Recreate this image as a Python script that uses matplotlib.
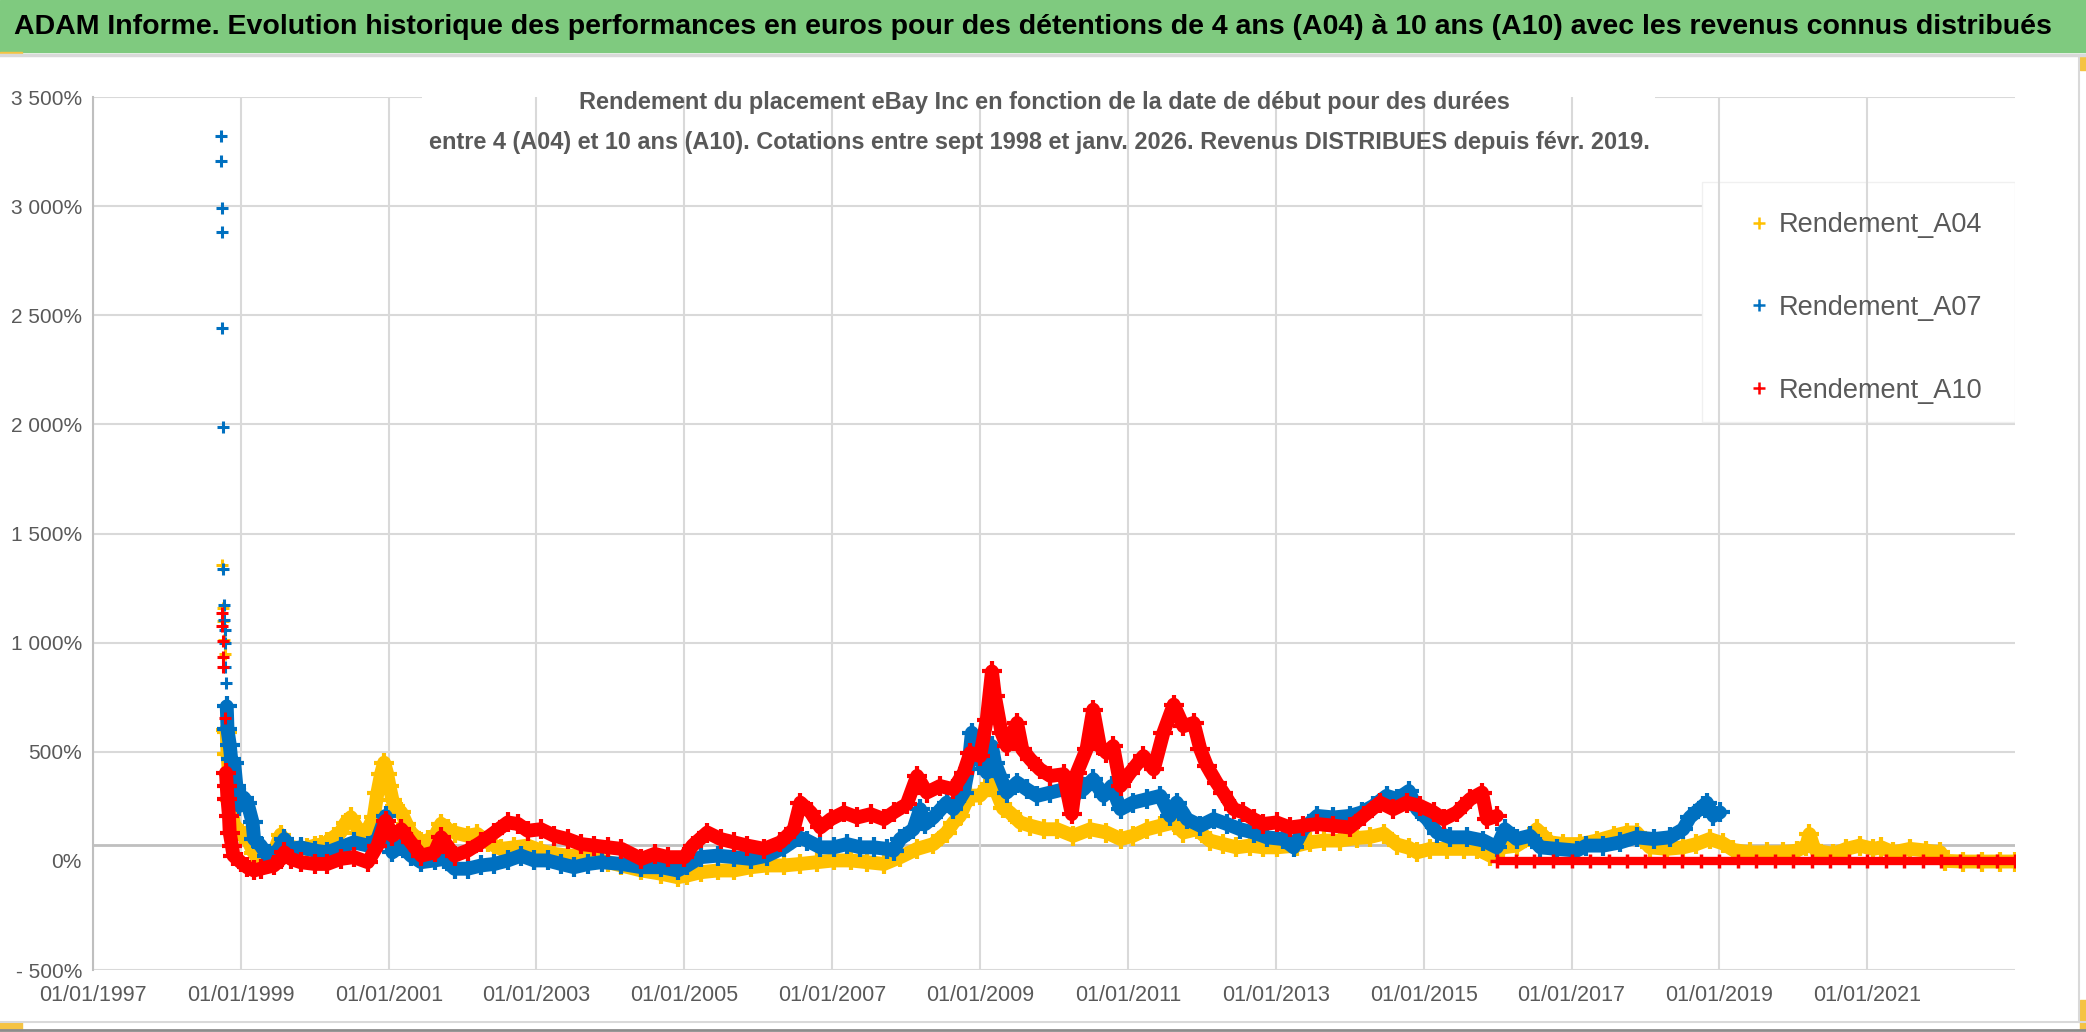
import matplotlib
matplotlib.use('Agg')
import matplotlib.pyplot as plt
from matplotlib.patches import Rectangle
from matplotlib.lines import Line2D
import matplotlib.dates as mdates
from datetime import datetime, timedelta

# dates en annees decimales, valeurs en %
a04_spike_years = [1998.75, 1998.76, 1998.765, 1998.77, 1998.78]
a04_spike_values = [1357, 1160, 1100, 1010, 950]
a04_years = [1998.80, 1998.81, 1998.82, 1998.84, 1998.86, 1998.91, 1998.95, 1999.00, 1999.09, 1999.18,
             1999.27, 1999.36, 1999.45, 1999.54, 1999.59, 1999.68, 1999.81, 1999.90, 2000.00, 2000.09,
             2000.17, 2000.26, 2000.35, 2000.42, 2000.49, 2000.56, 2000.62, 2000.72, 2000.80, 2000.85,
             2000.90, 2000.94, 2000.98, 2001.01, 2001.05, 2001.08, 2001.17, 2001.24, 2001.30, 2001.44,
             2001.53, 2001.62, 2001.71, 2001.80, 2001.89, 2002.07, 2002.20, 2002.34, 2002.43, 2002.52,
             2002.70, 2002.88, 2003.06, 2003.24, 2003.42, 2003.60, 2003.78, 2003.97, 2004.15, 2004.42,
             2004.69, 2004.91, 2005.04, 2005.22, 2005.45, 2005.67, 2005.90, 2006.12, 2006.35, 2006.57,
             2006.80, 2007.02, 2007.25, 2007.47, 2007.70, 2007.92, 2008.15, 2008.37, 2008.55, 2008.64,
             2008.73, 2008.80, 2008.87, 2009.00, 2009.13, 2009.18, 2009.24, 2009.31, 2009.40, 2009.54,
             2009.68, 2009.86, 2010.04, 2010.26, 2010.49, 2010.71, 2010.90, 2011.07, 2011.26, 2011.44,
             2011.62, 2011.75, 2011.93, 2012.11, 2012.29, 2012.47, 2012.65, 2012.83, 2013.01, 2013.28,
             2013.46, 2013.65, 2013.87, 2014.10, 2014.28, 2014.46, 2014.64, 2014.80, 2014.91, 2015.09,
             2015.32, 2015.54, 2015.72, 2015.90, 2016.08, 2016.26, 2016.44, 2016.53, 2016.71, 2016.89,
             2017.12, 2017.34, 2017.57, 2017.75, 2017.88, 2018.06, 2018.29, 2018.51, 2018.69, 2018.87,
             2019.05, 2019.19, 2019.41, 2019.64, 2019.86, 2020.05, 2020.18, 2020.22, 2020.27, 2020.31,
             2020.54, 2020.72, 2020.90, 2021.08, 2021.19, 2021.35, 2021.58, 2021.80, 2021.99, 2022.05,
             2022.30, 2022.55, 2022.80, 2023.00]
a04_values = [600, 590, 490, 400, 280, 160, 150, 125, 100, 35,
              -5, 10, 40, 120, 90, 65, 55, 60, 70, 75,
              85, 110, 130, 175, 200, 160, 130, 145, 200, 313,
              400, 450, 400, 343, 280, 252, 222, 170, 130, 85,
              95, 110, 170, 145, 130, 115, 123, 85, 70, 55,
              62, 70, 47, 32, 24, 24, 9, -6, -21, -44,
              -59, -75, -67, -52, -44, -44, -29, -21, -21, -14,
              -6, 2, 2, -6, -14, 17, 55, 77, 130, 175,
              206, 260, 298, 300, 350, 366, 300, 240, 222, 176,
              161, 145, 145, 115, 145, 130, 100, 115, 145, 161,
              176, 130, 145, 93, 77, 62, 70, 62, 62, 70,
              85, 93, 93, 105, 110, 125, 75, 60, 39, 55,
              55, 55, 55, 24, 62, 70, 108, 145, 85, 77,
              77, 93, 115, 130, 130, 62, 55, 62, 77, 100,
              80, 50, 39, 39, 40, 47, 70, 123, 70, 47,
              32, 55, 70, 55, 62, 39, 55, 47, 39, 0,
              -3, -3, -3, -3]

a07_spike_years = [1998.73, 1998.735, 1998.74, 1998.745, 1998.75, 1998.76, 1998.765, 1998.77, 1998.775,
                   1998.78, 1998.785, 1998.79, 1998.80]
a07_spike_values = [3321, 3206, 2993, 2883, 2441, 1986, 1336, 1172, 1103, 1058, 997, 890, 815]
a07_years = [1998.81, 1998.82, 1998.85, 1998.87, 1998.88, 1998.91, 1998.94, 1998.98, 1999.04, 1999.09,
             1999.16, 1999.18, 1999.27, 1999.36, 1999.50, 1999.59, 1999.68, 1999.81, 2000.00, 2000.17,
             2000.35, 2000.53, 2000.72, 2000.85, 2000.96, 2001.05, 2001.17, 2001.30, 2001.44, 2001.62,
             2001.75, 2001.89, 2002.07, 2002.25, 2002.43, 2002.61, 2002.79, 2002.97, 2003.15, 2003.33,
             2003.51, 2003.70, 2003.88, 2004.15, 2004.42, 2004.69, 2004.91, 2005.04, 2005.22, 2005.45,
             2005.67, 2005.90, 2006.12, 2006.35, 2006.55, 2006.66, 2006.84, 2007.02, 2007.20, 2007.38,
             2007.56, 2007.74, 2007.83, 2007.92, 2008.10, 2008.19, 2008.26, 2008.37, 2008.55, 2008.64,
             2008.78, 2008.84, 2008.89, 2008.93, 2009.00, 2009.09, 2009.16, 2009.20, 2009.27, 2009.36,
             2009.50, 2009.63, 2009.77, 2009.95, 2010.13, 2010.26, 2010.40, 2010.53, 2010.67, 2010.78,
             2010.90, 2011.07, 2011.26, 2011.44, 2011.57, 2011.66, 2011.80, 2011.98, 2012.16, 2012.34,
             2012.52, 2012.70, 2012.88, 2013.10, 2013.24, 2013.37, 2013.56, 2013.78, 2014.00, 2014.16,
             2014.32, 2014.50, 2014.64, 2014.80, 2014.91, 2015.05, 2015.18, 2015.36, 2015.59, 2015.81,
             2015.99, 2016.10, 2016.26, 2016.44, 2016.58, 2016.80, 2017.07, 2017.20, 2017.43, 2017.66,
             2017.88, 2018.11, 2018.33, 2018.51, 2018.60, 2018.78, 2018.83, 2018.92, 2019.01]
a07_values = [708, 602, 533, 465, 389, 450, 343, 252, 290, 267,
              176, 100, 70, 24, 47, 100, 55, 62, 47, 39,
              62, 85, 70, 100, 206, 39, 70, 24, -6, 2,
              9, -36, -36, -21, -14, 2, 24, 2, 2, -14,
              -29, -14, -6, -14, -29, -29, -44, -21, 17, 24,
              17, 9, 24, 62, 108, 93, 62, 62, 77, 62,
              62, 55, 47, 100, 145, 237, 169, 199, 267, 237,
              313, 420, 587, 480, 465, 404, 526, 450, 389, 313,
              359, 328, 298, 313, 328, 298, 328, 374, 298, 343,
              237, 267, 283, 298, 206, 267, 191, 161, 191, 169,
              145, 130, 108, 100, 62, 145, 206, 199, 206, 222,
              252, 298, 283, 320, 237, 191, 130, 108, 108, 93,
              62, 145, 100, 115, 62, 55, 47, 70, 70, 85,
              108, 100, 108, 145, 199, 252, 267, 206, 222]

a10_spike_years = [1998.74, 1998.75, 1998.755, 1998.76, 1998.765, 1998.78]
a10_spike_values = [1136, 1078, 1008, 936, 890, 655]
a10_years = [1998.80, 1998.81, 1998.82, 1998.84, 1998.85, 1998.88, 1998.90, 1999.00, 1999.09, 1999.18,
             1999.27, 1999.45, 1999.55, 1999.59, 1999.68, 1999.81, 2000.00, 2000.17, 2000.35, 2000.53,
             2000.72, 2000.85, 2000.96, 2001.05, 2001.17, 2001.30, 2001.44, 2001.62, 2001.71, 2001.89,
             2002.07, 2002.25, 2002.43, 2002.61, 2002.75, 2002.88, 2003.06, 2003.24, 2003.42, 2003.60,
             2003.78, 2003.97, 2004.15, 2004.42, 2004.60, 2004.78, 2005.00, 2005.11, 2005.31, 2005.49,
             2005.67, 2005.85, 2006.08, 2006.30, 2006.48, 2006.57, 2006.71, 2006.84, 2006.98, 2007.16,
             2007.34, 2007.52, 2007.70, 2007.83, 2008.01, 2008.15, 2008.28, 2008.46, 2008.64, 2008.78,
             2008.87, 2009.00, 2009.09, 2009.16, 2009.20, 2009.29, 2009.36, 2009.50, 2009.57, 2009.68,
             2009.81, 2009.95, 2010.13, 2010.24, 2010.31, 2010.44, 2010.53, 2010.62, 2010.71, 2010.80,
             2010.90, 2011.03, 2011.21, 2011.35, 2011.48, 2011.62, 2011.75, 2011.89, 2011.98, 2012.07,
             2012.20, 2012.29, 2012.43, 2012.56, 2012.70, 2012.83, 2013.01, 2013.19, 2013.37, 2013.56,
             2013.78, 2014.00, 2014.19, 2014.41, 2014.59, 2014.77, 2014.95, 2015.14, 2015.27, 2015.45,
             2015.63, 2015.79, 2015.86, 2015.99]
a10_values = [404, 343, 283, 206, 130, 70, 24, -6, -30, -44,
              -36, -21, 10, 39, 9, -6, -14, -14, 9, 17,
              -6, 70, 184, 115, 145, 85, 24, 39, 108, 24,
              47, 85, 130, 176, 169, 138, 145, 115, 100, 77,
              70, 62, 55, 9, 32, 17, 17, 70, 130, 100,
              85, 70, 55, 85, 145, 267, 222, 153, 191, 222,
              199, 214, 191, 222, 260, 389, 313, 343, 328, 404,
              495, 480, 647, 868, 754, 587, 526, 632, 511, 465,
              419, 389, 397, 214, 404, 511, 693, 526, 495, 526,
              343, 404, 480, 419, 587, 716, 617, 632, 511, 435,
              359, 313, 237, 222, 191, 169, 176, 153, 161, 169,
              161, 153, 206, 267, 237, 267, 252, 222, 191, 222,
              283, 313, 191, 206]
# apres 2016 : serie A10 a 0 %
a10_flat_years = [2016.0, 2016.25, 2016.5, 2016.75, 2017.0, 2017.25, 2017.5, 2017.75, 2018.0, 2018.25,
                  2018.5, 2018.75, 2019.0, 2019.25, 2019.5, 2019.75, 2020.0, 2020.25, 2020.5, 2020.75,
                  2021.0, 2021.25, 2021.5, 2021.75, 2022.0, 2022.25, 2022.5, 2022.75, 2023.0]
a10_flat_values = [0, 0, 0, 0, 0, 0, 0, 0, 0, 0,
                   0, 0, 0, 0, 0, 0, 0, 0, 0, 0,
                   0, 0, 0, 0, 0, 0, 0, 0, 0]

y_ticks = [-500, 0, 500, 1000, 1500, 2000, 2500, 3000, 3500]
x_tick_years = [1997, 1999, 2001, 2003, 2005, 2007, 2009, 2011, 2013, 2015, 2017, 2019, 2021]
axis_cross = 73

titre = "ADAM Informe. Evolution historique des performances en euros pour des détentions de 4 ans (A04) à 10 ans (A10) avec les revenus connus distribués"
sous_titre1 = "Rendement du placement eBay Inc en fonction de la date de début pour des durées"
sous_titre2 = "entre 4 (A04) et 10 ans (A10). Cotations entre sept 1998 et janv. 2026. Revenus DISTRIBUES depuis févr. 2019."

JAUNE = '#FFC000'
BLEU = '#0070C0'
ROUGE = '#FF0000'
GRIS = '#595959'
POLICE = ['Liberation Sans', 'DejaVu Sans']


def to_dates(years):
    return [datetime(int(y), 1, 1) + timedelta(days=(y - int(y)) * 365.25) for y in years]


def fmt_pct(v):
    s = '{:,.0f}'.format(abs(v)).replace(',', ' ') + '%'
    if v < 0:
        s = '- ' + s
    return s


W, H = 2086, 1032
fig = plt.figure(figsize=(W / 100, H / 100), dpi=100)
fig.patch.set_facecolor('white')

def fx(px):
    return px / W

def fy(py):
    return 1 - py / H

# bandeau vert et cadre
fig.add_artist(Rectangle((0, fy(52)), 1, 52 / H, transform=fig.transFigure, color='#7fca7f', zorder=0))
fig.add_artist(Line2D([0, 1], [fy(55), fy(55)], transform=fig.transFigure, color='#d9d9d9', lw=2.5))
fig.add_artist(Line2D([fx(2079), fx(2079)], [fy(56), fy(1022)], transform=fig.transFigure, color='#d9d9d9', lw=1.5))
fig.add_artist(Line2D([0, 1], [fy(1022), fy(1022)], transform=fig.transFigure, color='#d9d9d9', lw=1.5))
fig.add_artist(Line2D([0, 1], [fy(1030), fy(1030)], transform=fig.transFigure, color='#8c8c8c', lw=2))
fig.add_artist(Rectangle((0, fy(55)), fx(22), 3 / H, transform=fig.transFigure, color='#f5c342'))
fig.add_artist(Rectangle((0, fy(1030)), fx(22), 8 / H, transform=fig.transFigure, color='#f5c342'))
fig.add_artist(Rectangle((fx(2080), fy(70)), fx(6), 15 / H, transform=fig.transFigure, color='#f5c342'))
fig.add_artist(Rectangle((fx(2080), fy(1030)), fx(6), 30 / H, transform=fig.transFigure, color='#f5c342'))

t_titre = fig.text(fx(1033), fy(27), titre, ha='center', va='center', fontsize=25,
                   fontweight='bold', color='black', family=POLICE)

ax = fig.add_axes([fx(93), fy(970), fx(2015 - 93), (970 - 97) / H])
ax.set_xlim(datetime(1997, 1, 1), datetime(2023, 1, 1))
ax.set_ylim(-500, 3500)

# grille
ax.set_xticks([datetime(y, 1, 1) for y in x_tick_years])
ax.xaxis.set_major_formatter(mdates.DateFormatter('%d/%m/%Y'))
ax.xaxis.grid(True, color='#d9d9d9', lw=1.5, zorder=0.5)
for v in y_ticks:
    if v != 0:
        ax.axhline(v, color='#d9d9d9', lw=1.5, zorder=0.5)
ax.axhline(axis_cross, color='#bfbfbf', lw=2, zorder=0.6)
ax.set_yticks(y_ticks)
ax.set_yticklabels([fmt_pct(v) for v in y_ticks])
ax.tick_params(length=0, colors=GRIS)
ax.tick_params(axis='y', pad=8, labelsize=15)
ax.tick_params(axis='x', pad=11, labelsize=15.5)
for lab in ax.get_xticklabels() + ax.get_yticklabels():
    lab.set_family(POLICE)
for s in ['top', 'right', 'bottom']:
    ax.spines[s].set_visible(False)
ax.spines['left'].set_color('#bfbfbf')
ax.spines['left'].set_linewidth(1.5)

# cadres blancs du sous-titre et de la legende
ax.add_patch(Rectangle((fx(422), fy(168)), fx(1655 - 422), (168 - 58) / H, transform=fig.transFigure,
                       facecolor='white', edgecolor='none', zorder=1))
ax.add_patch(Rectangle((fx(1702), fy(422)), fx(2015 - 1702), (422 - 182) / H, transform=fig.transFigure,
                       facecolor='white', edgecolor='#f0f0f0', lw=1, zorder=1))

series = [
    (a04_spike_years, a04_spike_values, a04_years, a04_values, JAUNE),
    (a07_spike_years, a07_spike_values, a07_years, a07_values, BLEU),
    (a10_spike_years, a10_spike_values, a10_years, a10_values, ROUGE),
]
z = 2
for sy, sv, yy, vv, c in series:
    ax.plot(to_dates(sy), sv, linestyle='none', marker='+', ms=8, mew=2.2, color=c, zorder=z)
    ax.plot(to_dates(yy), vv, color=c, lw=10, marker='+', ms=14, mew=3,
            solid_joinstyle='round', solid_capstyle='round', zorder=z)
    z += 1
ax.plot(to_dates(a10_flat_years), a10_flat_values, color=ROUGE, lw=6, marker='+', ms=10, mew=2.5,
        solid_capstyle='butt', zorder=z)

t_s1 = fig.text(fx(1044), fy(102), sous_titre1, ha='center', va='center', fontsize=17,
                fontweight='bold', color=GRIS, family=POLICE, zorder=6)
t_s2 = fig.text(fx(1039), fy(142), sous_titre2, ha='center', va='center', fontsize=17,
                fontweight='bold', color=GRIS, family=POLICE, zorder=6)

handles = [Line2D([], [], color=c, marker='+', linestyle='none', ms=8, mew=1.8) for c in [JAUNE, BLEU, ROUGE]]
leg = ax.legend(handles, ['Rendement_A04', 'Rendement_A07', 'Rendement_A10'], loc='upper left',
                bbox_to_anchor=(fx(1748), fy(212)), bbox_transform=fig.transFigure, frameon=False,
                borderpad=0, borderaxespad=0, handlelength=0.8, handletextpad=0.35, labelspacing=2.1,
                prop={'family': POLICE, 'size': 19.5})
for t in leg.get_texts():
    t.set_color(GRIS)

# ajuste la taille des titres a la largeur de l'original
fig.canvas.draw()
for t, w in [(t_titre, 2040), (t_s2, 1221)]:
    bb = t.get_window_extent()
    t.set_fontsize(t.get_fontsize() * w / bb.width)
t_s1.set_fontsize(t_s2.get_fontsize())

fig.savefig('out.png', dpi=100)
